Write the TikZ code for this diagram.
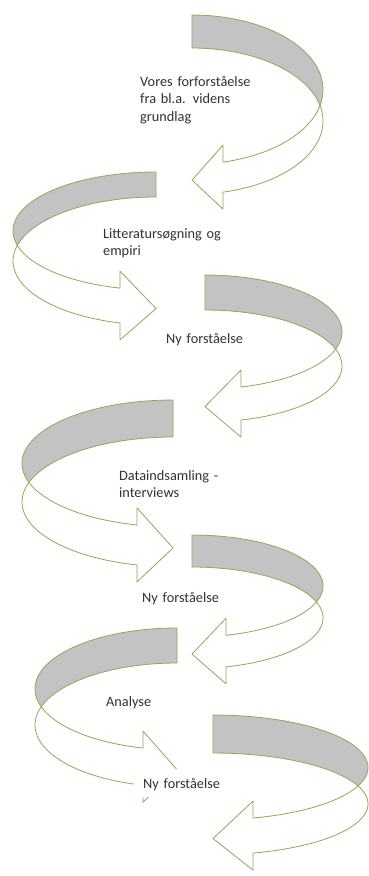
\documentclass[tikz,border=0pt]{standalone}
\usepackage{fontspec}
\setmainfont{Carlito}
\definecolor{arrowline}{RGB}{138,172,84}
\definecolor{backgray}{RGB}{195,195,195}
\definecolor{lbltext}{RGB}{50,50,50}
\tikzset{
  backband/.style={draw=arrowline, fill=backgray, line width=0.8pt, line join=round},
  frontband/.style={draw=arrowline, fill=white, line width=0.8pt, line join=round},
  lbl/.style={inner sep=0pt, text=lbltext, align=left, text width=130pt,
              font=\fontsize{14.3}{17.6}\selectfont},
}
% #1 cx, #2 rx (signed), #3 upper ellipse cy, #4 upper ry,
% #5 lower ellipse cy, #6 lower ry, #7 end offset (signed)
\newcommand{\curvarrow}[7]{%
  \pgfmathsetmacro{\yP}{#3+((#5)-(#3))*(#4)/((#4)+(#6))}%
  \pgfmathsetmacro{\phU}{asin((\yP-(#3))/(#4))}%
  \pgfmathsetmacro{\phL}{asin((\yP-(#5))/(#6))}%
  \pgfmathsetmacro{\thE}{acos((#7)/(#2))}%
  \pgfmathsetmacro{\xE}{#1+(#7)}%
  \pgfmathsetmacro{\yO}{#5+(#6)*sin(\thE)}%
  \pgfmathsetmacro{\yI}{#3+(#4)*sin(\thE)}%
  \pgfmathsetmacro{\yT}{(\yO+\yI)/2+3}%
  \filldraw[backband] plot[domain=-90:\phU,samples=60] ({#1+(#2)*cos(\x)},{#3+(#4)*sin(\x)})
     -- plot[domain=\phL:-90,samples=60] ({#1+(#2)*cos(\x)},{#5+(#6)*sin(\x)}) -- cycle;
  \filldraw[frontband] plot[domain=\phL:\thE,samples=60] ({#1+(#2)*cos(\x)},{#5+(#6)*sin(\x)})
     -- (\xE,\yO+17) -- (#1,\yT) -- (\xE,\yI-17)
     -- plot[domain=\thE:\phU,samples=60] ({#1+(#2)*cos(\x)},{#3+(#4)*sin(\x)}) -- cycle;
}
\begin{document}
\begin{tikzpicture}[x=1pt,y=-1pt]
\useasboundingbox (0,0) rectangle (369,876);
\fill[white] (0,0) rectangle (369,876);

\curvarrow{192}{131}{89.6}{74.6}{121.1}{73.1}{31}
\curvarrow{156}{-143}{231}{59}{261}{64}{-36}
\curvarrow{205}{137}{332}{57}{366}{56}{36}
\curvarrow{173}{-151}{463.4}{63.4}{501.9}{64.9}{-36}
\curvarrow{192}{131}{586}{51}{617.8}{50.8}{34}
\curvarrow{177}{-142}{688.9}{60.9}{725}{62}{-34}
\curvarrow{213}{155}{767.4}{52.4}{803.9}{50.9}{40}

\node[lbl, anchor=base west] (t1) at (140,86) {Vores forforståelse\\fra bl.a. videns\\grundlag};
\node[lbl, anchor=base west] (t2) at (103,238) {Litteratursøgning og\\empiri};
\node[lbl, anchor=base west] (t3) at (166,343) {Ny forståelse};
\node[lbl, anchor=base west] (t4) at (119,480) {Dataindsamling -\\interviews};
\node[lbl, anchor=base west] (t5) at (142,602) {Ny forståelse};
\node[lbl, anchor=base west] (t6) at (106,706) {Analyse};
\fill[white] (134,769) rectangle (229,797);
\node[lbl, anchor=base west] (t7) at (143,788) {Ny forståelse};
\end{tikzpicture}
\end{document}
